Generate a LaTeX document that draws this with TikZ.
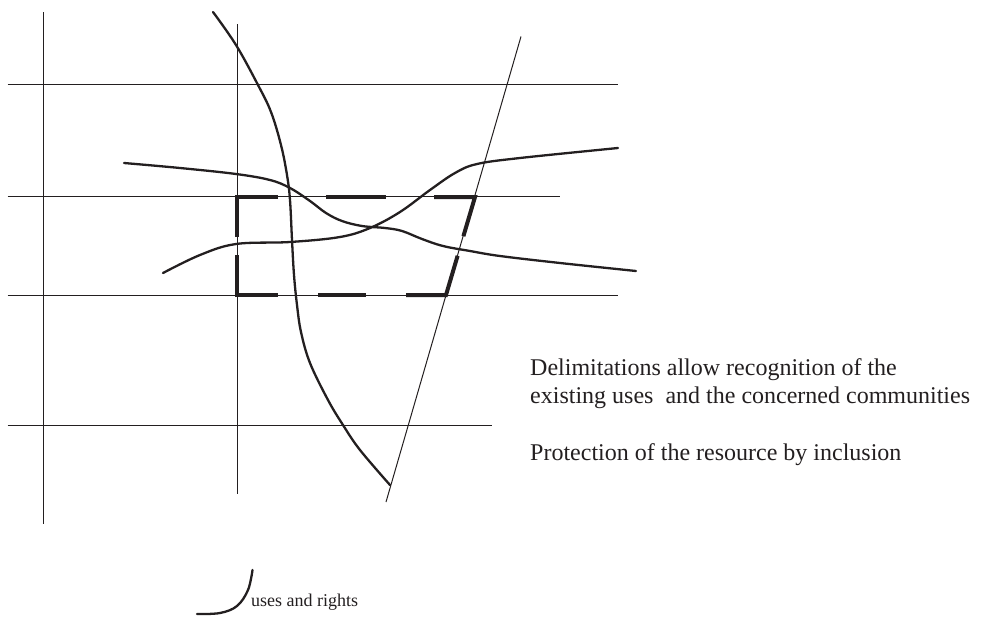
\documentclass[tikz,border=0pt]{standalone}
\usepackage{fontspec}
\setmainfont{Liberation Serif}
\definecolor{ink}{HTML}{231F20}
\begin{document}
\begin{tikzpicture}[x=1pt,y=-1pt,
  gridline/.style={draw=ink,line width=1pt},
  curveline/.style={draw=ink,line width=2.3pt,line cap=round},
  dashline/.style={draw=ink,line width=4pt,line join=miter},
  maintext/.style={anchor=base west,inner sep=0pt,text=ink,font=\fontsize{24}{29}\selectfont},
  smalltext/.style={anchor=base west,inner sep=0pt,text=ink,font=\fontsize{18}{21}\selectfont}]
\useasboundingbox (0,0) rectangle (982,616);
% grid lines
\draw[gridline] (43.5,12) -- (43.5,524);
\draw[gridline] (237.5,24) -- (237.5,494);
\draw[gridline] (7.5,84) -- (618,84);
\draw[gridline] (7.5,196.5) -- (560,196.5);
\draw[gridline] (7.5,295) -- (618,295);
\draw[gridline] (7.5,425) -- (492,425);
\draw[gridline] (521,36.5) -- (386,502);
% dashed delimitation
\draw[dashline] (278,197) -- (237,197) -- (237,237);
\draw[dashline] (237,255) -- (237,295) -- (278,295);
\draw[dashline] (326,197) -- (386,197);
\draw[dashline] (318,295) -- (366,295);
\draw[dashline] (434,197) -- (475,197) -- (463.4,236.2);
\draw[dashline] (406,295) -- (446,295) -- (457.6,255.8);
% curves
\draw[curveline] plot[smooth,tension=0.6] coordinates {(213,12) (236,45) (258,85) (271,112) (281,145) (287,175) (290,200) (292,240) (294,275) (297,305) (301,332) (310,363) (328,400) (343,425) (360,450) (390,485)};
\draw[curveline] plot[smooth,tension=0.6] coordinates {(124,163) (180,168) (236,174) (270,180) (290,188) (310,201) (326,213) (342,221) (362,226) (385,228) (402,231) (422,239) (443,246) (470,251) (500,256) (560,263) (636,271)};
\draw[curveline] plot[smooth,tension=0.6] coordinates {(163,273) (200,255) (236,244) (290,242) (340,237) (370,228) (400,212) (430,190) (455,173) (477,164) (520,158) (618,148)};
\draw[curveline] plot[smooth,tension=0.6] coordinates {(252.5,570) (248,590) (237,606) (220,613) (197,614)};
% texts
\node[maintext] (t1) at (530,375) {Delimitations allow recognition of the};
\node[maintext] (t2) at (530,403) {existing uses~ and the concerned communities};
\node[maintext] (t3) at (530,460) {Protection of the resource by inclusion};
\node[smalltext] (t4) at (251,606) {uses and rights};
\end{tikzpicture}
\end{document}
